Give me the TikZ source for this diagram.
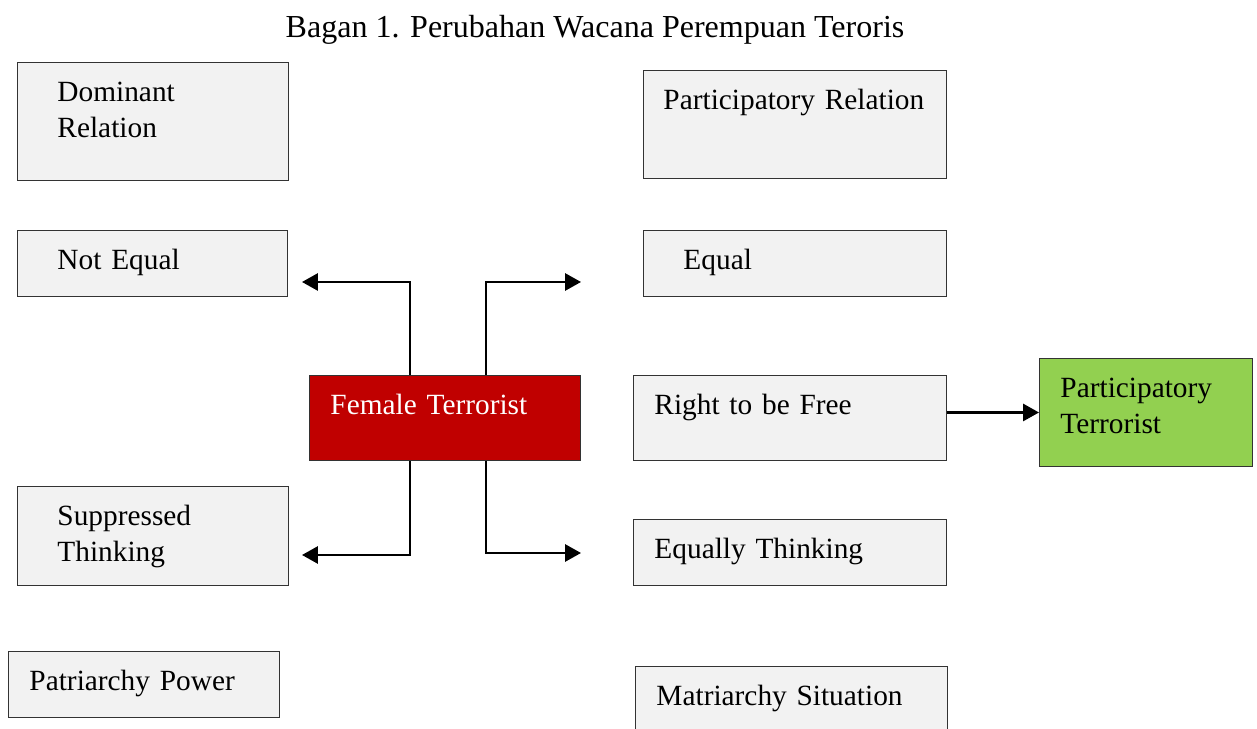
\documentclass[tikz,border=0pt]{standalone}
\usepackage{fontspec}
\setmainfont{Liberation Serif}
\usetikzlibrary{arrows.meta,positioning,calc}

\def\pxu{0.409pt}
\definecolor{boxgray}{HTML}{F2F2F2}
\definecolor{femred}{HTML}{C00000}
\definecolor{partgreen}{HTML}{92D050}

\begin{document}
\begin{tikzpicture}[
    x=\pxu, y=-\pxu,
    box/.style={rectangle, draw=black!80, fill=boxgray, anchor=north west, align=left,
        inner ysep=0pt, text height=39*\pxu, font=\fontsize{12}{14.7}\selectfont},
    arrow/.style={-{Triangle[length=6.5pt, width=7pt]}, line width=0.95pt}
]
\clip (0,0) rectangle (1257,729);

% Title
\node[anchor=base, font=\fontsize{13.1}{16}\selectfont] (title) at (595,38) {Bagan 1. Perubahan Wacana Perempuan Teroris};

% Left column
\node[box, minimum width=271*\pxu, text width=191*\pxu, inner xsep=40*\pxu, text depth=79*\pxu] (dom) at (17,62) {Dominant\\Relation};
\node[box, minimum width=270*\pxu, text width=190*\pxu, inner xsep=40*\pxu, text depth=27*\pxu] (neq) at (17,230) {Not Equal};
\node[box, minimum width=271*\pxu, text width=191*\pxu, inner xsep=40*\pxu, text depth=60*\pxu] (sup) at (17,486) {Suppressed\\Thinking};
\node[box, minimum width=271*\pxu, text width=229*\pxu, inner xsep=21*\pxu, text depth=27*\pxu] (pat) at (8,651) {Patriarchy Power};

% Centre
\node[box, fill=femred, text=white, minimum width=271*\pxu, text width=229*\pxu, inner xsep=21*\pxu, text depth=46*\pxu] (fem) at (309,375) {Female Terrorist};

% Right column
\node[box, minimum width=303*\pxu, text width=263*\pxu, inner xsep=20*\pxu, text depth=69*\pxu] (prel) at (643,70) {Participatory Relation};
\node[box, minimum width=303*\pxu, text width=223*\pxu, inner xsep=40*\pxu, text depth=27*\pxu] (eq) at (643,230) {Equal};
\node[box, minimum width=313*\pxu, text width=271*\pxu, inner xsep=21*\pxu, text depth=46*\pxu] (rtf) at (633,375) {Right to be Free};
\node[box, minimum width=313*\pxu, text width=271*\pxu, inner xsep=21*\pxu, text depth=27*\pxu] (eqt) at (633,519) {Equally Thinking};
\node[box, minimum width=312*\pxu, text width=270*\pxu, inner xsep=21*\pxu, text depth=41*\pxu] (mat) at (635,666) {Matriarchy Situation};

% Result
\node[box, fill=partgreen, minimum width=213*\pxu, text width=171*\pxu, inner xsep=21*\pxu, text depth=69*\pxu] (pter) at (1039,358) {Participatory\\Terrorist};

% Free arrow ends
\coordinate (neqend) at (302,282);
\coordinate (eqend) at (581,282);
\coordinate (supend) at (302,555);
\coordinate (eqtend) at (581,553);

% Arrows
\draw[arrow] ([xshift=-35*\pxu]fem.north) |- (neqend);
\draw[arrow] ([xshift=41*\pxu]fem.north) |- (eqend);
\draw[arrow] ([xshift=-35*\pxu]fem.south) |- (supend);
\draw[arrow] ([xshift=41*\pxu]fem.south) |- (eqtend);
\draw[arrow] (rtf.east |- pter.west) -- (pter.west);

\end{tikzpicture}
\end{document}
